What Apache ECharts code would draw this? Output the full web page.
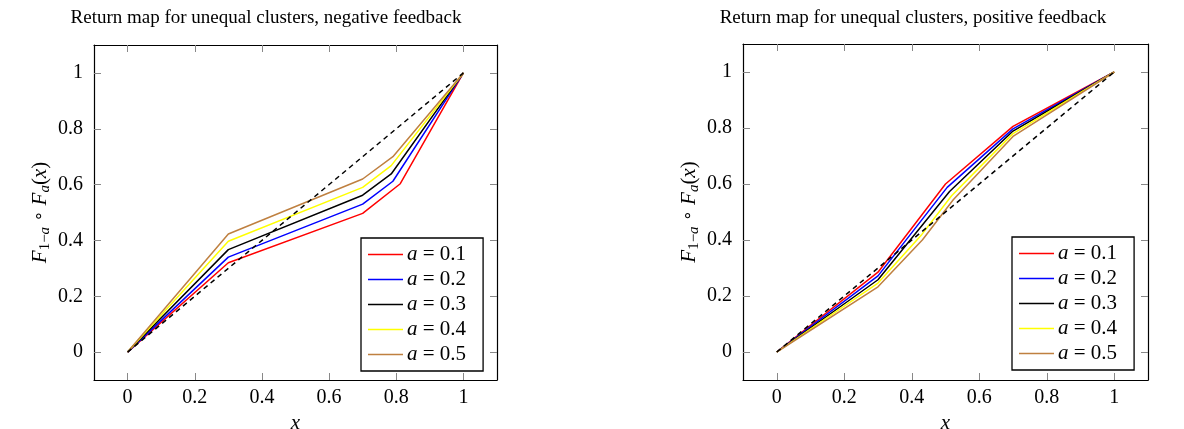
<!DOCTYPE html>
<html>
<head>
<meta charset="utf-8">
<script src="https://cdn.jsdelivr.net/npm/echarts@6/dist/echarts.min.js"></script>
<style>html,body{margin:0;padding:0;background:#fff}#c{width:1184px;height:429px}</style>
</head>
<body>
<div id="c"></div>
<script>
// ---- data ----
const xTicks = [0, 0.2, 0.4, 0.6, 0.8, 1];
const yTicks = [0, 0.2, 0.4, 0.6, 0.8, 1];
const seriesNames = ['a = 0.1', 'a = 0.2', 'a = 0.3', 'a = 0.4', 'a = 0.5'];
const titles = ['Return map for unequal clusters, negative feedback', 'Return map for unequal clusters, positive feedback'];
const diagonal = [[0, 0], [1, 1]];

// negative feedback
const neg01 = [[0, 0], [0.3, 0.32], [0.7, 0.497], [0.812, 0.603], [1, 1]];
const neg02 = [[0, 0], [0.3, 0.34], [0.7, 0.53], [0.79, 0.612], [1, 1]];
const neg03 = [[0, 0], [0.3, 0.367], [0.7, 0.562], [0.785, 0.638], [1, 1]];
const neg04 = [[0, 0], [0.3, 0.397], [0.7, 0.59], [0.785, 0.668], [1, 1]];
const neg05 = [[0, 0], [0.3, 0.423], [0.7, 0.62], [0.79, 0.70], [1, 1]];

// positive feedback
const pos01 = [[0, 0], [0.3, 0.285], [0.5, 0.6], [0.7, 0.806], [1, 1]];
const pos02 = [[0, 0], [0.3, 0.272], [0.505, 0.588], [0.7, 0.797], [1, 1]];
const pos03 = [[0, 0], [0.3, 0.258], [0.512, 0.573], [0.7, 0.789], [1, 1]];
const pos04 = [[0, 0], [0.3, 0.246], [0.43, 0.42], [0.518, 0.558], [0.7, 0.78], [1, 1]];
const pos05 = [[0, 0], [0.3, 0.233], [0.432, 0.401], [0.523, 0.544], [0.7, 0.77], [1, 1]];

const negSets = [neg01, neg02, neg03, neg04, neg05];
const posSets = [pos01, pos02, pos03, pos04, pos05];

// ---- styles ----
const palette = ['#ff0000', '#0000ff', '#000000', '#ffff00', '#bf8040'];
const FONT = '"Liberation Serif", "DejaVu Serif", serif';
const grids = [
  { left: 94, top: 45, width: 403, height: 335 },
  { left: 743, top: 44, width: 405, height: 336 }
];

const chart = echarts.init(document.getElementById('c'), null, { renderer: 'canvas' });

const yName = '{f|F}{s|1\u2212}{si|a}{o| \u2218 }{f|F}{si|a}{r|(}{f|x}{r|)}';
const nameRich = {
  f: { fontFamily: FONT, fontStyle: 'italic', fontSize: 21, lineHeight: 26, color: '#000' },
  r: { fontFamily: FONT, fontSize: 21, lineHeight: 26, color: '#000' },
  o: { fontFamily: '"DejaVu Sans", sans-serif', fontSize: 17, lineHeight: 26, color: '#000' },
  s: { fontFamily: FONT, fontSize: 15, lineHeight: 14, verticalAlign: 'bottom', color: '#000' },
  si: { fontFamily: FONT, fontStyle: 'italic', fontSize: 15, lineHeight: 14, verticalAlign: 'bottom', color: '#000' }
};

function fmt(v) { return String(+v.toFixed(2)); }

const xAxes = [], yAxes = [], series = [], legends = [];
const tickStyle = { show: true, inside: true, length: 7, lineStyle: { color: '#888', width: 1 } };

grids.forEach((g, gi) => {
  xAxes.push({
    type: 'value', gridIndex: gi, min: -0.1, max: 1.1, position: 'bottom',
    axisLine: { show: true, onZero: false, lineStyle: { color: '#000', width: 1.2 } },
    axisTick: Object.assign({ customValues: xTicks }, tickStyle),
    axisLabel: { customValues: xTicks, formatter: fmt, fontFamily: FONT, fontSize: 20, color: '#000', margin: 8 },
    splitLine: { show: false },
    name: 'x', nameLocation: 'middle', nameGap: 25,
    nameTextStyle: { fontFamily: FONT, fontStyle: 'italic', fontSize: 21, color: '#000' }
  });
  xAxes.push({
    type: 'value', gridIndex: gi, min: -0.1, max: 1.1, position: 'top',
    axisLine: { show: true, onZero: false, lineStyle: { color: '#000', width: 1.2 } },
    axisTick: Object.assign({ customValues: xTicks }, tickStyle),
    axisLabel: { show: false }, splitLine: { show: false }
  });
  yAxes.push({
    type: 'value', gridIndex: gi, min: -0.1, max: 1.1, position: 'left',
    axisLine: { show: true, onZero: false, lineStyle: { color: '#000', width: 1.2 } },
    axisTick: Object.assign({ customValues: yTicks }, tickStyle),
    axisLabel: { customValues: yTicks, formatter: fmt, fontFamily: FONT, fontSize: 20, color: '#000', margin: 11 },
    splitLine: { show: false },
    name: yName, nameLocation: 'middle', nameGap: 41, nameRotate: 90,
    nameTextStyle: { rich: nameRich }
  });
  yAxes.push({
    type: 'value', gridIndex: gi, min: -0.1, max: 1.1, position: 'right',
    axisLine: { show: true, onZero: false, lineStyle: { color: '#000', width: 1.2 } },
    axisTick: Object.assign({ customValues: yTicks }, tickStyle),
    axisLabel: { show: false }, splitLine: { show: false }
  });
  const sets = gi === 0 ? negSets : posSets;
  sets.forEach((d, i) => {
    series.push({
      type: 'line', name: seriesNames[i], xAxisIndex: gi * 2, yAxisIndex: gi * 2,
      data: d, symbol: 'none', animation: false, z: 3,
      lineStyle: { color: palette[i], width: 1.5 }, itemStyle: { color: palette[i] }
    });
  });
  series.push({
    type: 'line', name: 'diag', xAxisIndex: gi * 2, yAxisIndex: gi * 2,
    data: diagonal, symbol: 'none', animation: false, z: 4,
    lineStyle: { color: '#000', width: 1.5, type: [5, 4] }
  });
});

legends.push({
  left: 361, top: 238
}, {
  left: 1012, top: 237
});
const legendCommon = {
  orient: 'vertical', data: seriesNames, backgroundColor: '#fff',
  borderColor: '#000', borderWidth: 1.3, borderRadius: 0,
  padding: [6, 17, 6, 7], itemGap: 4, itemWidth: 35, itemHeight: 1.6,
  icon: 'rect',
  selectedMode: false,
  formatter: n => '{i|a}' + n.slice(1),
  textStyle: { fontFamily: FONT, fontSize: 21, lineHeight: 20, color: '#000', padding: [0, 0, 0, -1],
    rich: { i: { fontFamily: FONT, fontStyle: 'italic', fontSize: 21, lineHeight: 20, color: '#000' } } }
};
legends.forEach(l => Object.assign(l, legendCommon));

chart.setOption({
  animation: false,
  title: [
    { text: titles[0], left: 261, top: 4, textAlign: 'center', textStyle: { fontFamily: FONT, fontWeight: 'normal', fontSize: 19, color: '#000' } },
    { text: titles[1], left: 908, top: 4, textAlign: 'center', textStyle: { fontFamily: FONT, fontWeight: 'normal', fontSize: 19, color: '#000' } }
  ],
  grid: grids.map(g => Object.assign({ show: false, containLabel: false, outerBoundsMode: 'none' }, g)),
  xAxis: xAxes,
  yAxis: yAxes,
  legend: legends,
  series: series
});
</script>
</body>
</html>
